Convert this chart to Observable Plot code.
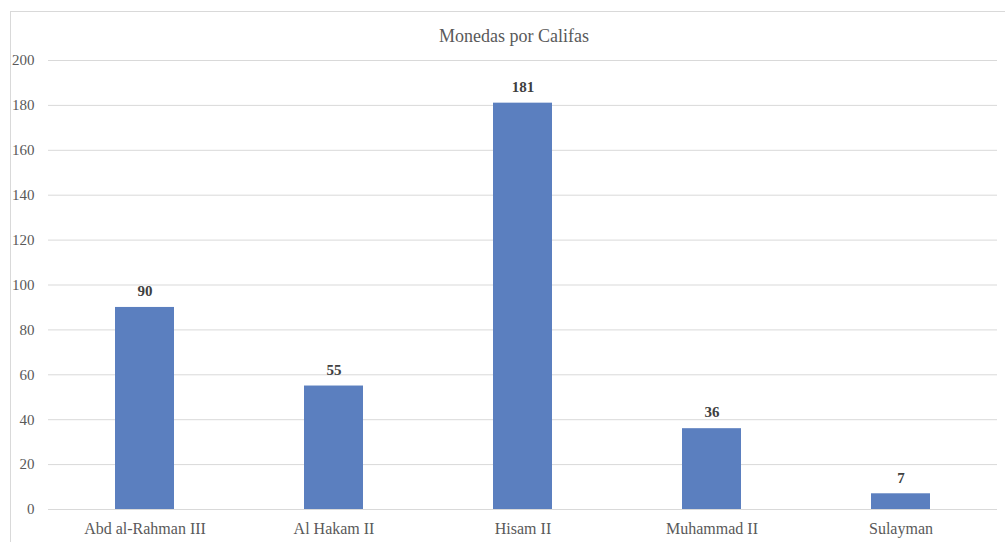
<!DOCTYPE html>
<html>
<head>
<meta charset="utf-8">
<script src="https://cdn.jsdelivr.net/npm/d3@7"></script>
<script src="https://cdn.jsdelivr.net/npm/@observablehq/plot@0.6"></script>
<style>
  html, body { margin: 0; padding: 0; background: #fff; }
  #wrap { position: relative; width: 1005px; height: 542px; overflow: hidden; }
  #border { position: absolute; left: 10px; top: 11px; width: 1100px; height: 700px; border: 1px solid #d9d9d9; pointer-events: none; }
  #wrap svg, #wrap svg text { font-family: "Liberation Serif", "DejaVu Serif", serif !important; }
</style>
</head>
<body>
<div id="wrap"><div id="border"></div></div>
<script>
const califas = ["Abd al-Rahman III", "Al Hakam II", "Hisam II", "Muhammad II", "Sulayman"];
const monedas = [90, 55, 181, 36, 7];
const yTicks = [0, 20, 40, 60, 80, 100, 120, 140, 160, 180, 200];
const titulo = "Monedas por Califas";

const data = califas.map((c, i) => ({califa: c, monedas: monedas[i]}));

const chart = Plot.plot({
  width: 1005,
  height: 542,
  marginLeft: 48,
  marginRight: 8,
  marginTop: 60,
  marginBottom: 33,
  style: {fontSize: "15px", color: "#595959", background: "transparent"},
  x: {domain: califas, paddingInner: 0.69, paddingOuter: 0.345, label: null, tickSize: 0, tickPadding: 13, fontSize: 16},
  y: {domain: [0, 200], ticks: yTicks, label: null, tickSize: 0, tickPadding: 14},
  marks: [
    Plot.gridY(yTicks, {stroke: "#d9d9d9", strokeOpacity: 1}),
    Plot.barY(data, {x: "califa", y: "monedas", fill: "#5b7fbf"}),
    Plot.axisX({tickSize: 0, tickPadding: 13, fontSize: 16, label: null}),
    Plot.text(data, {x: "califa", y: "monedas", text: d => String(d.monedas), lineAnchor: "middle", dy: -16, fontWeight: "bold", fill: "#404040", fontSize: 15}),
    Plot.text([titulo], {frameAnchor: "top", lineAnchor: "middle", dy: -24, dx: -9, text: d => d, fill: "#595959", fontSize: 18})
  ]
});
chart.style.position = "absolute";
chart.style.left = "0";
chart.style.top = "0";
document.getElementById("wrap").appendChild(chart);
</script>
</body>
</html>
